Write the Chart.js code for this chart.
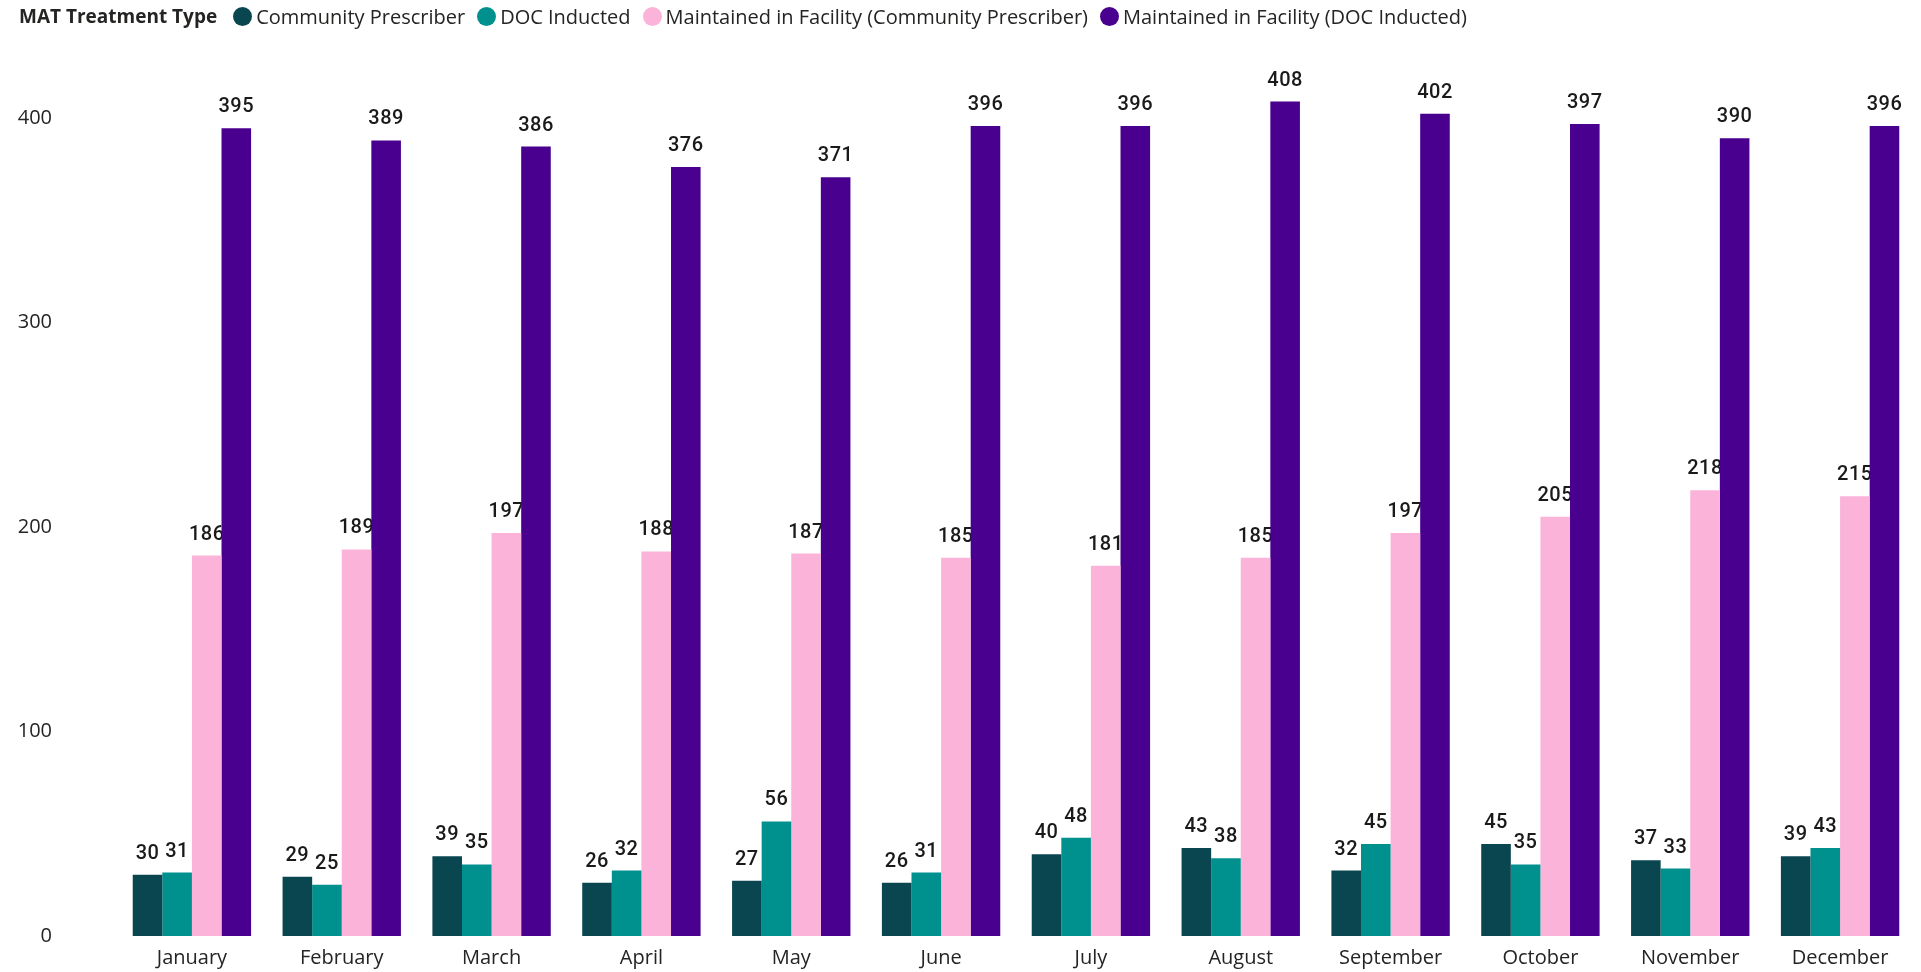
<!DOCTYPE html>
<html>
<head>
<meta charset="utf-8">
<script src="https://cdn.jsdelivr.net/npm/chart.js@4"></script>
<style>
  html, body { margin: 0; padding: 0; background: #fff; }
  body { width: 1921px; height: 972px; position: relative; overflow: hidden; font-family: "Open Sans", sans-serif; }
  #leyenda { position: absolute; left: 19px; top: 3px; height: 26px; display: flex; align-items: center; font-size: 20px; color: #252423; white-space: nowrap; z-index: 2; }
  #leyenda .titulo { font-weight: 700; font-size: 19px; margin-right: 16px; }
  #leyenda .item { display: flex; align-items: center; margin-right: 12px; }
  #leyenda .punto { width: 19px; height: 19px; border-radius: 50%; margin-right: 4px; }
  #grafico { position: absolute; left: 0; top: 0; }
</style>
</head>
<body>
<div id="leyenda"><span class="titulo">MAT Treatment Type</span></div>
<canvas id="grafico" width="1921" height="972"></canvas>
<script>
// Meses del eje X
const meses = ["January", "February", "March", "April", "May", "June", "July", "August", "September", "October", "November", "December"];

// Series
const nombresSeries = ["Community Prescriber", "DOC Inducted", "Maintained in Facility (Community Prescriber)", "Maintained in Facility (DOC Inducted)"];
const communityPrescriber = [30, 29, 39, 26, 27, 26, 40, 43, 32, 45, 37, 39];
const docInducted = [31, 25, 35, 32, 56, 31, 48, 38, 45, 35, 33, 43];
const mantenidoCommunity = [186, 189, 197, 188, 187, 185, 181, 185, 197, 205, 218, 215];
const mantenidoDoc = [395, 389, 386, 376, 371, 396, 396, 408, 402, 397, 390, 396];
const colores = ["#0A4650", "#00908E", "#FBB3D9", "#4A008F"];

// Marcas del eje Y
const marcasY = [0, 100, 200, 300, 400];

// Leyenda en HTML (título en línea con los elementos)
const leyenda = document.getElementById("leyenda");
nombresSeries.forEach((nombre, i) => {
    const item = document.createElement("span");
    item.className = "item";
    item.innerHTML = `<span class="punto" style="background:${colores[i]}"></span><span>${nombre}</span>`;
    leyenda.appendChild(item);
});

// Plugin para las etiquetas de valor encima de cada barra
// (se dibujan antes de las barras, así la barra vecina más alta las tapa como en el original)
const etiquetasValor = {
    id: "etiquetasValor",
    beforeDatasetsDraw(chart) {
        const ctx = chart.ctx;
        ctx.save();
        ctx.font = "500 20px Roboto";
        ctx.letterSpacing = "0.5px";
        ctx.fillStyle = "#1a1a1a";
        ctx.textAlign = "center";
        ctx.textBaseline = "alphabetic";
        chart.data.datasets.forEach((ds, i) => {
            chart.getDatasetMeta(i).data.forEach((bar, j) => {
                ctx.fillText(String(ds.data[j]), bar.x, bar.y - 16);
            });
        });
        ctx.restore();
    }
};

new Chart(document.getElementById("grafico"), {
    type: "bar",
    data: {
        labels: meses,
        datasets: [communityPrescriber, docInducted, mantenidoCommunity, mantenidoDoc].map((data, i) => ({
            label: nombresSeries[i],
            data,
            backgroundColor: colores[i],
            categoryPercentage: 0.79,
            barPercentage: 1.0
        }))
    },
    options: {
        responsive: false,
        animation: false,
        layout: { padding: { top: 77, left: 0, right: 6, bottom: 2 } },
        plugins: {
            legend: { display: false },
            tooltip: { enabled: false }
        },
        scales: {
            x: {
                grid: { display: false, drawTicks: false },
                border: { display: false },
                ticks: { font: { family: "Open Sans", size: 20 }, color: "#252423", padding: 10, maxRotation: 0 },
                afterFit(scale) { scale.height = 34; }
            },
            y: {
                min: 0,
                max: 420,
                grid: { display: false, drawTicks: false },
                border: { display: false },
                ticks: { font: { family: "Open Sans", size: 20 }, color: "#252423", padding: 65 },
                afterBuildTicks(scale) { scale.ticks = marcasY.map(v => ({ value: v })); },
                afterFit(scale) {
                    scale.width = 117;
                    // el padding de las marcas no debe reservar espacio vertical
                    scale.paddingTop = 0;
                    scale.paddingBottom = 0;
                }
            }
        }
    },
    plugins: [etiquetasValor]
});
</script>
</body>
</html>
